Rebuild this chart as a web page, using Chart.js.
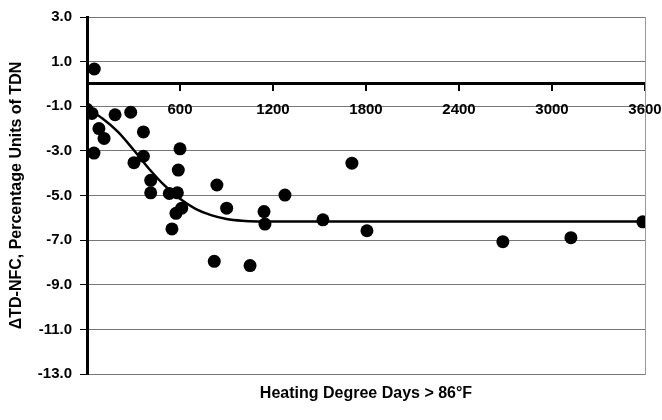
<!DOCTYPE html>
<html>
<head>
<meta charset="utf-8">
<script src="https://cdn.jsdelivr.net/npm/chart.js@4.4.1/dist/chart.umd.min.js"></script>
<style>
  html, body { margin: 0; padding: 0; background: #fff; }
  #wrap { width: 662px; height: 420px; }
</style>
</head>
<body>
<div id="wrap"><canvas id="myChart"></canvas></div>
<script>
// observed points (heating degree days, change in TD-NFC)
const hdd = [0, 32, 77, 110, 45, 181, 282, 364, 303, 364, 411, 411, 531, 583, 600, 589,
    611, 574, 548, 838, 1277, 901, 1142, 1148, 821, 1052, 1522, 1709, 1806, 2683, 3122, 3586, 47];
const dtdnfc = [-1.14, -1.32, -2.0, -2.44, -3.1, -1.38, -1.27, -2.15, -3.53, -3.24, -4.32, -4.88,
    -4.91, -4.88, -2.91, -3.86, -5.57, -5.8, -6.5, -4.53, -4.98, -5.57, -5.72, -6.28, -7.95,
    -8.14, -6.09, -3.55, -6.58, -7.07, -6.89, -6.18, 0.67];

// fitted curve
const fitHdd = [0, 100, 200, 300, 400, 500, 600, 700, 800, 900, 1000, 1100, 1300, 3600];
const fitVal = [-1.1, -1.55, -2.15, -2.95, -3.8, -4.55, -5.15, -5.6, -5.88, -6.05, -6.13, -6.16, -6.17, -6.17];

const xTicks = [0, 600, 1200, 1800, 2400, 3000, 3600];
const yMin = -13, yMax = 3, yStep = 2;

Chart.defaults.font.family = '"Liberation Sans", Arial, sans-serif';
Chart.defaults.font.size = 15;
Chart.defaults.font.weight = 'bold';
Chart.defaults.color = '#000';

const ctx = document.getElementById('myChart').getContext('2d');

new Chart(ctx, {
    type: 'scatter',
    data: {
        datasets: [{
            label: 'Observed',
            data: hdd.map((x, i) => ({ x: x, y: dtdnfc[i] })),
            backgroundColor: '#000',
            borderWidth: 0,
            pointRadius: 6.5,
            pointHoverRadius: 6.5
        }, {
            label: 'Fit',
            data: fitHdd.map((x, i) => ({ x: x, y: fitVal[i] })),
            showLine: true,
            borderColor: '#000',
            borderWidth: 2.5,
            pointRadius: 0,
            tension: 0.4,
            cubicInterpolationMode: 'monotone'
        }]
    },
    options: {
        responsive: true,
        maintainAspectRatio: false,
        animation: false,
        layout: { padding: { left: 0, right: 17, top: 7, bottom: 0 } },
        plugins: {
            legend: { display: false },
            tooltip: { enabled: false }
        },
        scales: {
            x: {
                type: 'linear',
                position: { y: 0 },
                min: 0,
                max: 3600,
                afterBuildTicks: s => { s.ticks = xTicks.map(v => ({ value: v })); },
                afterFit: s => { s.height = 0; s.paddingLeft = 0; s.paddingRight = 0; },
                ticks: {
                    padding: 11,
                    callback: v => (v === 0 ? '' : v)
                },
                grid: {
                    display: true,
                    drawOnChartArea: false,
                    drawTicks: true,
                    tickLength: 6,
                    color: '#000',
                    lineWidth: 2
                },
                border: { display: true, color: '#000', width: 3 }
            },
            x2: {
                type: 'linear',
                position: 'bottom',
                afterFit: s => { s.height = 46; s.paddingLeft = 0; s.paddingRight = 0; },
                ticks: { display: false },
                grid: { display: false },
                border: { display: false },
                title: {
                    display: true,
                    text: 'Heating Degree Days > 86°F',
                    font: { size: 16 },
                    padding: { top: 9, bottom: 17 }
                }
            },
            y: {
                min: yMin,
                max: yMax,
                afterFit: s => { s.width = 87; },
                ticks: {
                    stepSize: yStep,
                    padding: 8,
                    callback: v => v.toFixed(1)
                },
                grid: {
                    color: '#777',
                    lineWidth: 1,
                    tickColor: '#000',
                    tickLength: 7
                },
                border: { display: true, color: '#000', width: 3 },
                title: {
                    display: true,
                    text: 'ΔTD-NFC, Percentage Units of TDN',
                    font: { size: 16 },
                    padding: { top: 7, bottom: 0 }
                }
            },
            y2: {
                type: 'linear',
                position: 'right',
                afterFit: s => { s.width = 0; },
                ticks: { display: false },
                grid: { display: false },
                border: { display: true, color: '#999', width: 1 }
            }
        }
    }
});
</script>
</body>
</html>
